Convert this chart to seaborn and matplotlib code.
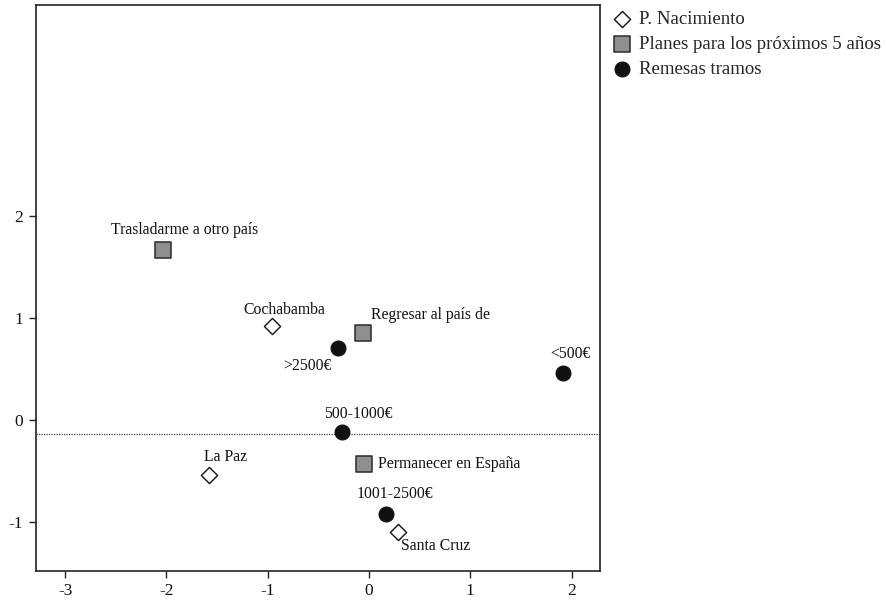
import matplotlib
matplotlib.use("Agg")
import matplotlib.pyplot as plt
import seaborn as sns
import pandas as pd

# Category points (dimension 1, dimension 2)
nac_labels = ["Cochabamba", "La Paz", "Santa Cruz"]
nac_x = [-0.96, -1.58, 0.29]
nac_y = [0.92, -0.54, -1.10]

planes_labels = ["Trasladarme a otro país", "Regresar al país de", "Permanecer en España"]
planes_x = [-2.03, -0.06, -0.05]
planes_y = [1.67, 0.85, -0.43]

rem_labels = ["<500€", "500-1000€", "1001-2500€", ">2500€"]
rem_x = [1.91, -0.27, 0.17, -0.31]
rem_y = [0.46, -0.12, -0.92, 0.71]

ref_line_y = -0.14
x_ticks = [-3, -2, -1, 0, 1, 2]
y_ticks = [-1, 0, 1, 2]

sns.set_theme(style="white")
plt.rcParams["font.family"] = ["Liberation Serif", "DejaVu Serif"]

fig = plt.figure(figsize=(8.86, 6.02), dpi=100)
ax = fig.add_axes([0.0403, 0.0515, 0.6369, 0.9402])

nac = pd.DataFrame({"x": nac_x, "y": nac_y, "label": nac_labels})
planes = pd.DataFrame({"x": planes_x, "y": planes_y, "label": planes_labels})
rem = pd.DataFrame({"x": rem_x, "y": rem_y, "label": rem_labels})

ax.axhline(ref_line_y, color="#444444", linestyle=(0, (1, 1)), linewidth=0.9, zorder=1)

sns.scatterplot(data=nac, x="x", y="y", ax=ax, marker="D", s=68,
                color="white", edgecolor="#111111", linewidth=1.0,
                label="P. Nacimiento", zorder=3)
sns.scatterplot(data=planes, x="x", y="y", ax=ax, marker="s", s=125,
                color="#8f8f8f", edgecolor="#2a2a2a", linewidth=1.1,
                label="Planes para los próximos 5 años", zorder=3)
sns.scatterplot(data=rem, x="x", y="y", ax=ax, marker="o", s=115,
                color="#111111", edgecolor="#111111", linewidth=0.8,
                label="Remesas tramos", zorder=3)

# label offsets in points: (dx, dy, horizontal alignment)
offsets = {
    "Cochabamba": (9, 12, "center"),
    "La Paz": (12, 13, "center"),
    "Santa Cruz": (2, -10, "left"),
    "Trasladarme a otro país": (15, 14, "center"),
    "Regresar al país de": (6, 13, "left"),
    "Permanecer en España": (10, 0, "left"),
    "<500€": (6, 14, "center"),
    "500-1000€": (12, 13, "center"),
    "1001-2500€": (6, 14, "center"),
    ">2500€": (-22, -13, "center"),
}

for df in (nac, planes, rem):
    for _, r in df.iterrows():
        dx, dy, ha = offsets[r["label"]]
        ax.annotate(r["label"], (r["x"], r["y"]), xytext=(dx, dy),
                    textcoords="offset points", ha=ha, va="center",
                    fontsize=11.3, color="#111111")

ax.set_xlim(-3.29, 2.28)
ax.set_ylim(-1.48, 4.07)
ax.set_xticks(x_ticks)
ax.set_yticks(y_ticks)
ax.set_xticklabels([str(t) for t in x_ticks])
ax.set_yticklabels([str(t) for t in y_ticks])
ax.set_xlabel("")
ax.set_ylabel("")
ax.tick_params(axis="both", which="both", direction="out", length=5, width=1.0,
               color="#222222", labelsize=12.5, labelcolor="#111111",
               bottom=True, left=True, pad=4)
for sp in ax.spines.values():
    sp.set_visible(True)
    sp.set_color("#222222")
    sp.set_linewidth(1.2)

leg = ax.legend(loc="upper left", bbox_to_anchor=(1.005, 1.003), frameon=False,
                fontsize=13.5, handletextpad=0.35, labelspacing=0.42,
                borderaxespad=0.0, handlelength=1.2)

fig.savefig("out.png", dpi=100)
